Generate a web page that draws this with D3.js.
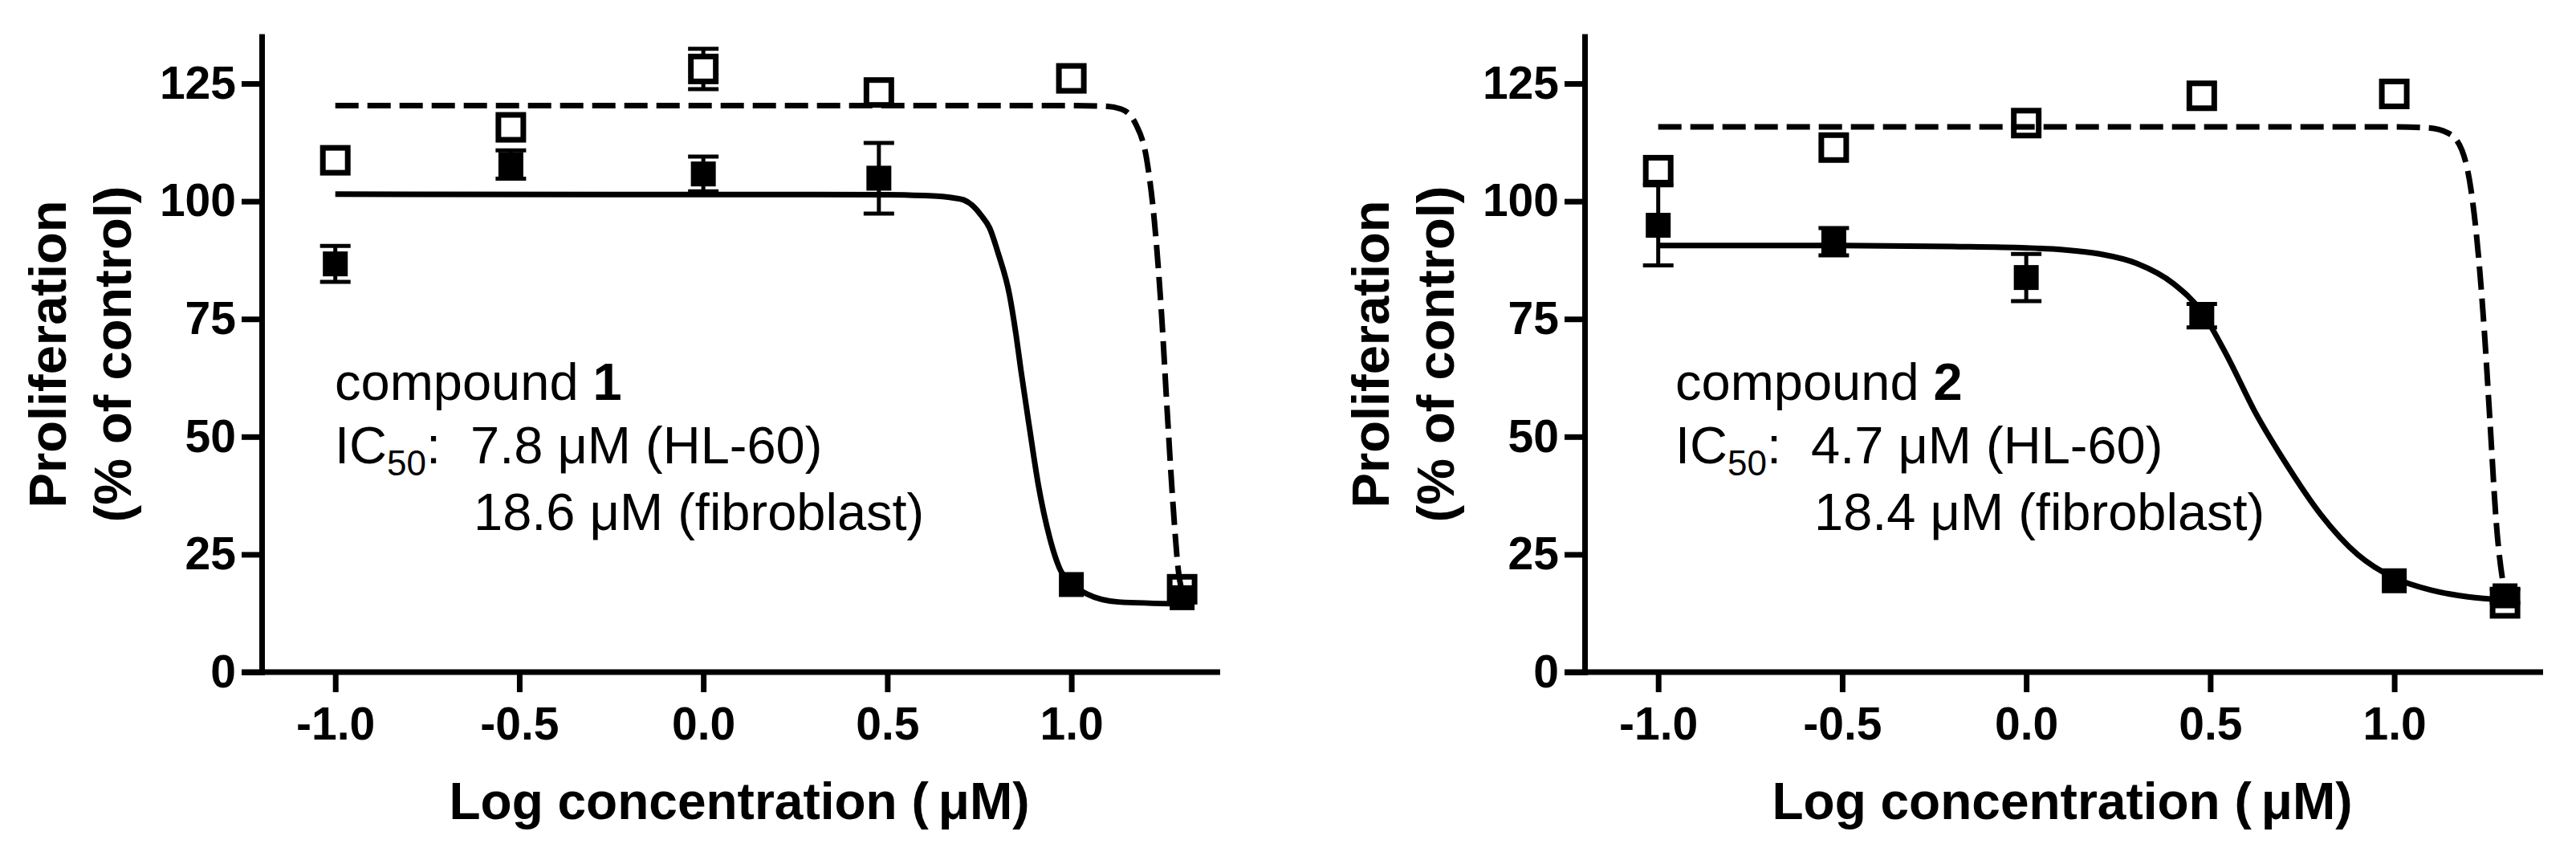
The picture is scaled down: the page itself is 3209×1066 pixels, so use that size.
<!DOCTYPE html>
<html>
<head>
<meta charset="utf-8">
<script src="https://cdn.jsdelivr.net/npm/d3@7"></script>
<style>
  html, body { margin: 0; padding: 0; background: #fff; }
  svg { display: block; }
  text { font-family: "Liberation Sans", Arial, Helvetica, sans-serif; fill: #000; }
</style>
</head>
<body>
<div id="chart"></div>
<script>
// log concentration (uM): 0.1, 0.3, 1, 3, 10, 20 uM
var logConc = [-1.0, -0.523, 0.0, 0.477, 1.0, 1.301];

var xTicks = [-1.0, -0.5, 0.0, 0.5, 1.0];
var xTickLabels = ["-1.0", "-0.5", "0.0", "0.5", "1.0"];
var yTicks = [0, 25, 50, 75, 100, 125];
var yTickLabels = ["0", "25", "50", "75", "100", "125"];

var compoundNames = ["1", "2"];
var hl60IC50 = ["7.8", "4.7"];
var fibroIC50 = ["18.6", "18.4"];

// compound 1 (filled = HL-60, open = fibroblast)
var hl60Mean1 = [86.7, 107.8, 105.8, 104.9, 18.6, 15.8];
var hl60Sem1 = [3.8, 3.0, 3.7, 7.5, 0, 0];
var fibroMean1 = [108.7, 115.7, 128.1, 123.1, 126.1, 17.6];
var fibroSem1 = [0, 0, 4.3, 0, 0, 0];

// compound 2
var hl60Mean2 = [94.9, 91.4, 83.8, 75.7, 19.4, 16.2];
var hl60Sem2 = [8.5, 2.9, 5.0, 2.5, 0, 1.5];
var fibroMean2 = [106.6, 111.4, 116.6, 122.4, 122.8, 14.6];
var fibroSem2 = [0, 0, 0, 0, 0, 0];

// fitted curves, points
var hl60Fit1 = [[-1.0, 101.5], [0.5, 101.4], [0.6, 101.2], [0.65, 101.0], [0.68, 100.7],
  [0.707, 100.3], [0.73, 99.2], [0.754, 97.1], [0.778, 94.3], [0.801, 89.0],
  [0.832, 80.1], [0.85, 71.5], [0.863, 64.1], [0.886, 52.0], [0.910, 39.9],
  [0.941, 28.6], [0.972, 21.4], [1.0, 18.9], [1.042, 16.6], [1.128, 14.9], [1.301, 14.5]];
var fibroFit1 = [[-1.0, 120.3], [1.0, 120.3], [1.089, 120.2], [1.135, 119.6], [1.175, 116.4],
  [1.206, 108.3], [1.225, 96.3], [1.245, 76.1], [1.260, 56.0], [1.276, 35.9],
  [1.291, 21.4], [1.301, 17.0]];
var hl60Fit2 = [[-1.0, 90.6], [-0.5, 90.6], [-0.2, 90.4], [0.0, 90.1], [0.1, 89.7],
  [0.2, 88.8], [0.3, 86.8], [0.4, 82.5], [0.477, 76.5], [0.55, 66.5],
  [0.62, 55.5], [0.7, 45.0], [0.8, 33.5], [0.9, 25.0], [1.0, 20.0],
  [1.1, 17.4], [1.2, 16.0], [1.301, 15.3]];
var fibroFit2 = [[-1.0, 115.8], [1.0, 115.8], [1.092, 115.6], [1.148, 114.4], [1.184, 110.8],
  [1.208, 102.7], [1.229, 88.2], [1.245, 72.1], [1.261, 52.0], [1.277, 31.9],
  [1.294, 19.8], [1.301, 17.0]];

var W = 3209, H = 1066;
var panelShift = [0, 1648];
var textLeft = [417, 439];

var svg = d3.select("#chart").append("svg")
  .attr("width", W).attr("height", H)
  .attr("viewBox", "0 0 " + W + " " + H);
svg.append("rect").attr("width", W).attr("height", H).attr("fill", "#fff");

var panels = [
  { hl: hl60Mean1, hlSem: hl60Sem1, fb: fibroMean1, fbSem: fibroSem1, hlFit: hl60Fit1, fbFit: fibroFit1 },
  { hl: hl60Mean2, hlSem: hl60Sem2, fb: fibroMean2, fbSem: fibroSem2, hlFit: hl60Fit2, fbFit: fibroFit2 }
];

panels.forEach(function(p, i) {
  var g = svg.append("g").attr("transform", "translate(" + panelShift[i] + ",0)");

  var x = d3.scaleLinear().domain([-1.2, 1.4]).range([326, 1518]);
  var y = d3.scaleLinear().domain([0, 135]).range([837, 45.4]);

  // y axis
  var yAxis = d3.axisLeft(y).tickValues(yTicks)
    .tickFormat(function(d, k) { return yTickLabels[k]; })
    .tickSize(25).tickSizeOuter(0).tickPadding(7);
  var ya = g.append("g").attr("transform", "translate(" + x.range()[0] + ",0)").call(yAxis);
  ya.select(".domain").attr("stroke", "#000").attr("stroke-width", 7).attr("stroke-linecap", "square");
  ya.selectAll(".tick line").attr("stroke", "#000").attr("stroke-width", 7);
  ya.selectAll(".tick text").attr("font-size", 57).attr("font-weight", "bold")
    .attr("font-family", "'Liberation Sans', Arial, sans-serif").attr("fill", "#000");

  // x axis (line runs a tick-length left of the y axis)
  var xAxis = d3.axisBottom(x).tickValues(xTicks)
    .tickFormat(function(d, k) { return xTickLabels[k]; })
    .tickSize(25).tickSizeOuter(0).tickPadding(19);
  var xa = g.append("g").attr("transform", "translate(0," + y(0) + ")").call(xAxis);
  xa.select(".domain").remove();
  xa.selectAll(".tick line").attr("stroke", "#000").attr("stroke-width", 7);
  xa.selectAll(".tick text").attr("font-size", 57).attr("font-weight", "bold")
    .attr("font-family", "'Liberation Sans', Arial, sans-serif").attr("fill", "#000");
  xa.append("line")
    .attr("x1", x.range()[0] - 25).attr("x2", x.range()[1] + 2)
    .attr("y1", 0).attr("y2", 0)
    .attr("stroke", "#000").attr("stroke-width", 7);

  // axis titles
  var yt = g.append("g").attr("font-size", 65).attr("font-weight", "bold");
  yt.append("text").attr("transform", "translate(82,441) rotate(-90)")
    .attr("text-anchor", "middle").text("Proliferation");
  yt.append("text").attr("transform", "translate(163,441) rotate(-90)")
    .attr("text-anchor", "middle").text("(% of control)");

  var xt = g.append("text")
    .attr("x", (x.range()[0] + x.range()[1]) / 2 - 1).attr("y", 1020)
    .attr("text-anchor", "middle").attr("font-size", 64).attr("font-weight", "bold");
  xt.append("tspan").text("Log concentration (");
  xt.append("tspan").attr("dx", 12).text("\u03bcM)");

  var rows = logConc.map(function(c, k) {
    return { x: c, hl: p.hl[k], hlSem: p.hlSem[k], fb: p.fb[k], fbSem: p.fbSem[k] };
  });

  // error bars
  function errBars(key, semKey) {
    var eb = g.append("g").attr("stroke", "#000").attr("stroke-width", 5);
    rows.filter(function(d) { return d[semKey] > 0; }).forEach(function(d) {
      var cx = x(d.x), top = y(d[key] + d[semKey]), bot = y(d[key] - d[semKey]);
      eb.append("line").attr("x1", cx).attr("x2", cx).attr("y1", top).attr("y2", bot);
      eb.append("line").attr("x1", cx - 19).attr("x2", cx + 19).attr("y1", top).attr("y2", top);
      eb.append("line").attr("x1", cx - 19).attr("x2", cx + 19).attr("y1", bot).attr("y2", bot);
    });
  }
  errBars("fb", "fbSem");
  errBars("hl", "hlSem");

  var s = 31;
  g.append("g").selectAll("rect").data(rows).enter().append("rect")
    .attr("x", function(d) { return x(d.x) - s / 2; })
    .attr("y", function(d) { return y(d.fb) - s / 2; })
    .attr("width", s).attr("height", s)
    .attr("fill", "#fff").attr("stroke", "#000").attr("stroke-width", 7);

  g.append("g").selectAll("rect").data(rows).enter().append("rect")
    .attr("x", function(d) { return x(d.x) - s / 2; })
    .attr("y", function(d) { return y(d.hl) - s / 2; })
    .attr("width", s).attr("height", s)
    .attr("fill", "#000");

  // fitted curves
  var line = d3.line()
    .x(function(d) { return x(d[0]); })
    .y(function(d) { return y(d[1]); })
    .curve(d3.curveMonotoneX);
  g.append("path").datum(p.fbFit).attr("d", line)
    .attr("fill", "none").attr("stroke", "#000").attr("stroke-width", 7)
    .attr("stroke-dasharray", "29,11");
  g.append("path").datum(p.hlFit).attr("d", line)
    .attr("fill", "none").attr("stroke", "#000").attr("stroke-width", 7);

  // annotation
  var tx = textLeft[i];
  var ann = g.append("g").attr("font-size", 65);
  var t1 = ann.append("text").attr("x", tx).attr("y", 498);
  t1.append("tspan").text("compound ");
  t1.append("tspan").attr("font-weight", "bold").text(compoundNames[i]);

  var t2 = ann.append("text").attr("x", tx).attr("y", 577);
  t2.append("tspan").text("IC");
  t2.append("tspan").attr("font-size", 44).attr("dy", 15).text("50");
  t2.append("tspan").attr("dy", -15).text(":");
  t2.append("tspan").attr("x", tx + 169).text(hl60IC50[i] + " \u03bcM (HL-60)");

  ann.append("text").attr("x", tx + 173).attr("y", 660)
    .text(fibroIC50[i] + " \u03bcM (fibroblast)");
});
</script>
</body>
</html>
